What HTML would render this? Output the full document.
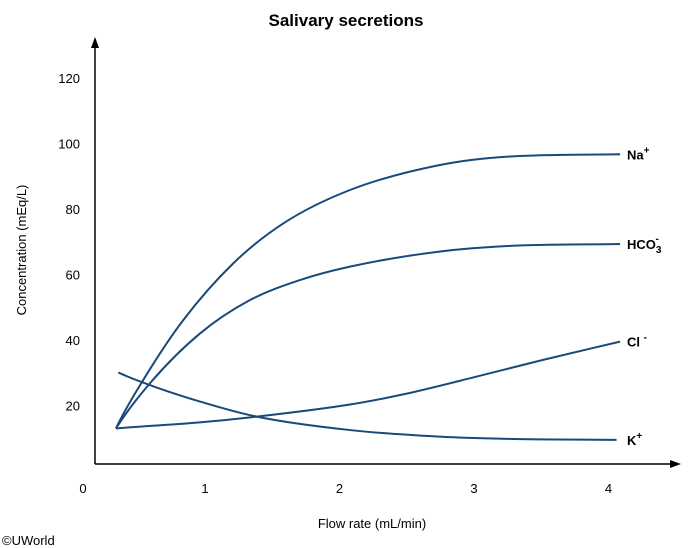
<!DOCTYPE html>
<html><head><meta charset="utf-8"><style>
body{margin:0;background:#fff;}
svg{display:block;font-family:"Liberation Sans",Arial,sans-serif;}
</style></head><body>
<svg id="chart" width="700" height="548" viewBox="0 0 700 548">
<text x="346" y="26" text-anchor="middle" font-size="17" font-weight="bold">Salivary secretions</text>
<line x1="95" y1="464" x2="95" y2="44" stroke="#000" stroke-width="1.5"/>
<polygon points="95,37 91,48 99,48" fill="#000"/>
<line x1="95" y1="464" x2="674" y2="464" stroke="#000" stroke-width="1.5"/>
<polygon points="681,464 670,460 670,468" fill="#000"/>
<text x="26" y="250" font-size="13" text-anchor="middle" transform="rotate(-90 26 250)">Concentration (mEq/L)</text>
<text x="372" y="528" font-size="13" text-anchor="middle">Flow rate (mL/min)</text>
<text x="2" y="545" font-size="13">©UWorld</text>
<g id="ticks"></g>
<g id="series"></g>
</svg>
<script>
const yTicks=[20,40,60,80,100,120];
const xTicks=[0,1,2,3,4];
const naX=[0.338,0.541,0.839,1.210,1.582,2.078,2.742,3.254,4.086];
const naVals=[13.0,27.8,46.1,63.4,75.6,85.8,93.4,96.0,96.7];
const hco3X=[0.338,0.591,0.963,1.335,1.706,2.078,2.742,3.254,4.086];
const hco3Vals=[13.0,26.8,42.0,52.2,58.3,62.4,67.0,68.7,69.3];
const clX=[0.338,0.950,1.384,2.078,2.486,2.998,3.510,4.086];
const clVals=[13.0,14.8,16.6,20.3,23.5,28.6,33.9,39.5];
const kX=[0.356,0.566,0.963,1.384,2.078,2.742,3.254,4.060];
const kVals=[30.1,26.6,21.2,16.6,12.5,10.5,9.8,9.5];
const seriesNames=["Na","HCO3","Cl","K"];
const seriesX=[naX,hco3X,clX,kX];
const seriesVals=[naVals,hco3Vals,clVals,kVals];
const X=v=>70.5+134.5*v;
const Y=v=>471-3.275*v;
const NS="http://www.w3.org/2000/svg";
const tg=document.getElementById('ticks');
yTicks.forEach(t=>{const e=document.createElementNS(NS,'text');e.setAttribute('x',80);e.setAttribute('y',Y(t)+5);e.setAttribute('text-anchor','end');e.setAttribute('font-size','13');e.textContent=t;


tg.appendChild(e);});
xTicks.forEach(t=>{const e=document.createElementNS(NS,'text');e.setAttribute('x',t===0?83:X(t));e.setAttribute('y',493);e.setAttribute('text-anchor','middle');e.setAttribute('font-size','13');e.textContent=t;


tg.appendChild(e);});
function pathFor(xs,vals){
  const px=xs.map(X),py=vals.map(Y),n=px.length;
  const d=[],m=[];
  for(let i=0;i<n-1;i++)d.push((py[i+1]-py[i])/(px[i+1]-px[i]));
  m[0]=d[0]*1.2;m[n-1]=d[n-2];
  for(let i=1;i<n-1;i++){m[i]=d[i-1]*d[i]<=0?0:(d[i-1]+d[i])/2;}
  for(let i=0;i<n-1;i++){if(d[i]===0){m[i]=m[i+1]=0;continue;}const a=m[i]/d[i],b=m[i+1]/d[i],s=a*a+b*b;if(s>9){const t=3/Math.sqrt(s);m[i]=t*a*d[i];m[i+1]=t*b*d[i];}}
  let s=`M${px[0]},${py[0]}`;
  for(let i=0;i<n-1;i++){const h=(px[i+1]-px[i])/3;s+=` C${px[i]+h},${py[i]+m[i]*h} ${px[i+1]-h},${py[i+1]-m[i+1]*h} ${px[i+1]},${py[i+1]}`;}
  return s;}
const sg=document.getElementById('series');
seriesVals.forEach((vals,i)=>{const e=document.createElementNS(NS,'path');e.setAttribute('d',pathFor(seriesX[i],vals));e.setAttribute('fill','none');e.setAttribute('stroke','#1a4a7a');e.setAttribute('stroke-width','2');


sg.appendChild(e);});
const labels=[["Na","+",null],["HCO","-","3"],["Cl ","-",null],["K","+",null]];
labels.forEach((l,i)=>{const vals=seriesVals[i];const e=document.createElementNS(NS,'text');e.setAttribute('x',627);e.setAttribute('y',Y(vals[vals.length-1])+5);e.setAttribute('font-size','13');e.setAttribute('font-weight','bold');


let h=l[0];if(l[2])h+=`<tspan dy="4" font-size="10">${l[2]}</tspan><tspan dx="-6" dy="-11" font-size="10">${l[1]}</tspan>`;else h+=`<tspan dy="-6" font-size="10">${l[1]}</tspan>`;
e.innerHTML=h;sg.appendChild(e);});
</script>
</body></html>
